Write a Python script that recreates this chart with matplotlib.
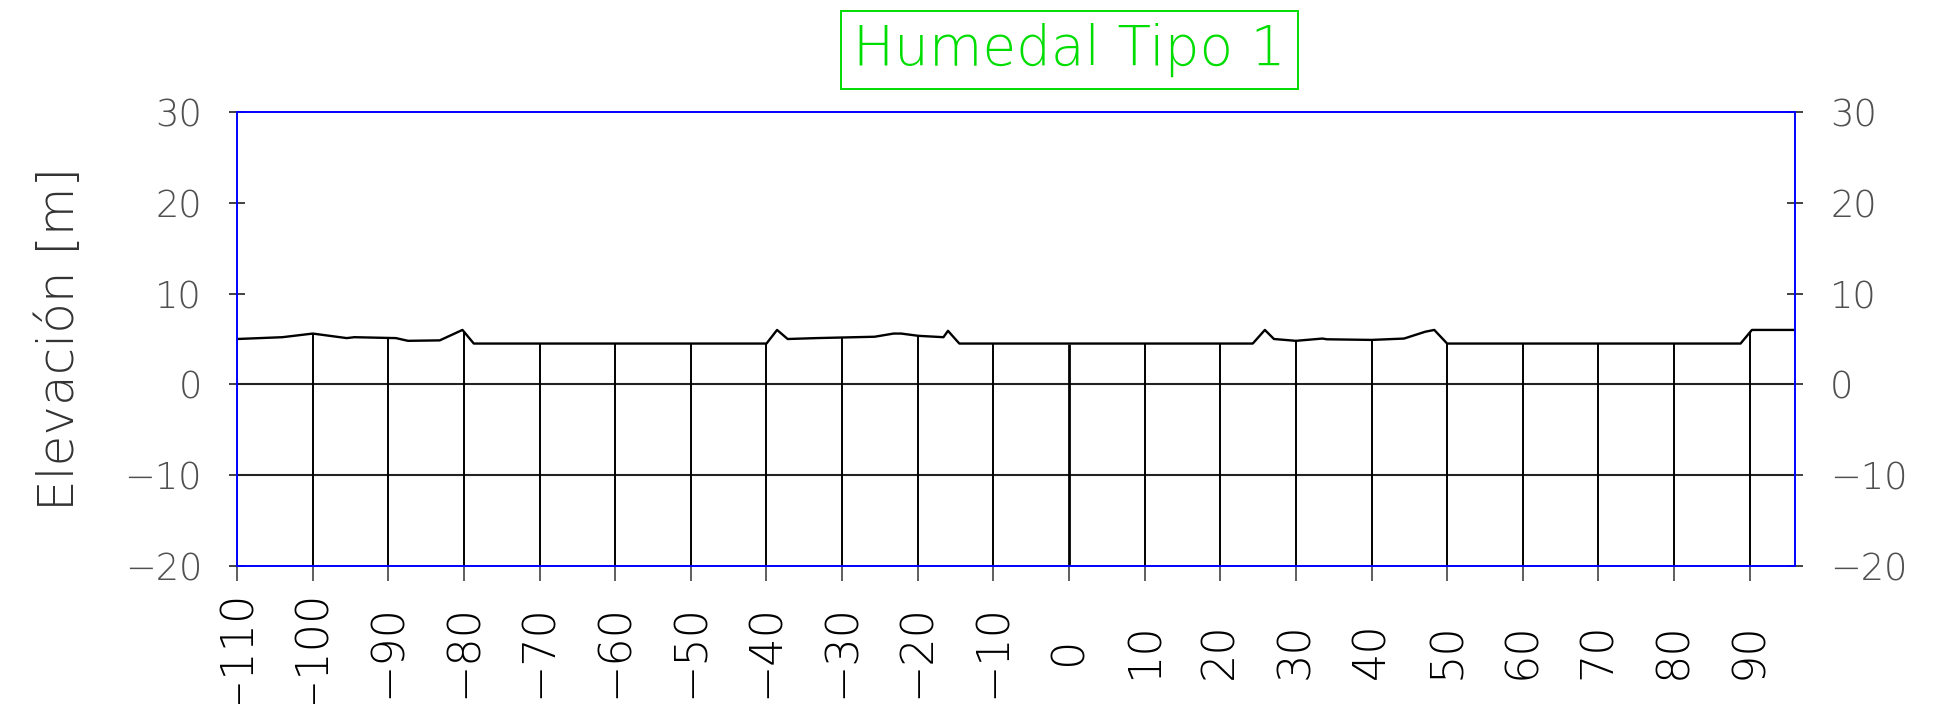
import numpy as np
import matplotlib
matplotlib.use('Agg')
import matplotlib.pyplot as plt

plt.rcParams['font.family'] = ['DejaVu Sans']
plt.rcParams['font.weight'] = 'light'
plt.rcParams['axes.labelweight'] = 'light'

# Perfil del terreno (distancia [m], elevacion [m])
dist = [-110, -104, -100, -95.5, -94.5, -89, -87.4, -83.2, -80.2, -78.7,
        -40, -38.6, -37.2, -33.4, -25.7, -23.2, -22.2, -19.9, -16.6, -16.0, -14.5,
        24.3, 25.9, 27.1, 30, 33.5, 34.1, 40, 44.3, 47.1, 48.3, 50,
        88.8, 90.3, 96]
elev = [5.0, 5.2, 5.6, 5.1, 5.2, 5.1, 4.8, 4.85, 6.0, 4.5,
        4.5, 6.0, 5.0, 5.1, 5.25, 5.6, 5.6, 5.35, 5.2, 5.9, 4.5,
        4.5, 6.0, 5.0, 4.8, 5.05, 4.97, 4.9, 5.05, 5.8, 6.0, 4.5,
        4.5, 6.0, 6.0]

xticks = list(range(-110, 91, 10))
yticks = [-20, -10, 0, 10, 20, 30]
lineas_h = [0, -10]
titulo = 'Humedal Tipo 1'

fig = plt.figure(figsize=(19.37, 7.04), dpi=100)
ax = fig.add_axes([0.1224, 0.196, 0.8043, 0.6449])
ax.set_xlim(-110, 96)
ax.set_ylim(-20, 30)

# lineas horizontales bajo el terreno
for yy in lineas_h:
    ax.axhline(yy, color='#222222', lw=1.5, zorder=2)

# lineas verticales hasta el perfil
top = np.interp(xticks, dist, elev)
lw_v = [2.0 if x == 0 else 1.4 for x in xticks]
ax.vlines(xticks, -20, top, colors='black', linewidths=lw_v, zorder=2)

# perfil
ax.plot(dist, elev, color='black', lw=1.7, zorder=3)

for s in ax.spines.values():
    s.set_color('#0000ff')
    s.set_linewidth(1.4)
    s.set_zorder(4)

ax.set_xticks(xticks)
ax.set_yticks(yticks)
ax.tick_params(axis='x', direction='out', length=11, width=1.1, color='#333333',
               labelsize=32, labelcolor='black', pad=50, labelrotation=90)
plt.setp(ax.get_xticklabels(), va='center')
ax.tick_params(axis='y', direction='inout', length=11.5, width=1.2, color='#222222',
               labelsize=26.5, labelcolor='#505050', pad=19.5,
               right=True, labelright=True)

ax.set_ylabel('Elevación [m]', fontsize=36, color='#333333', fontweight='light')
ax.yaxis.set_label_coords(-0.098, 0.5)

fig.text(0.5522, 0.929, titulo, fontsize=39.5, color='#00dd00',
         ha='center', va='center',
         bbox=dict(boxstyle='square,pad=0.22', fc='none', ec='#00dd00', lw=1.4))

fig.savefig('out.png', dpi=100)
